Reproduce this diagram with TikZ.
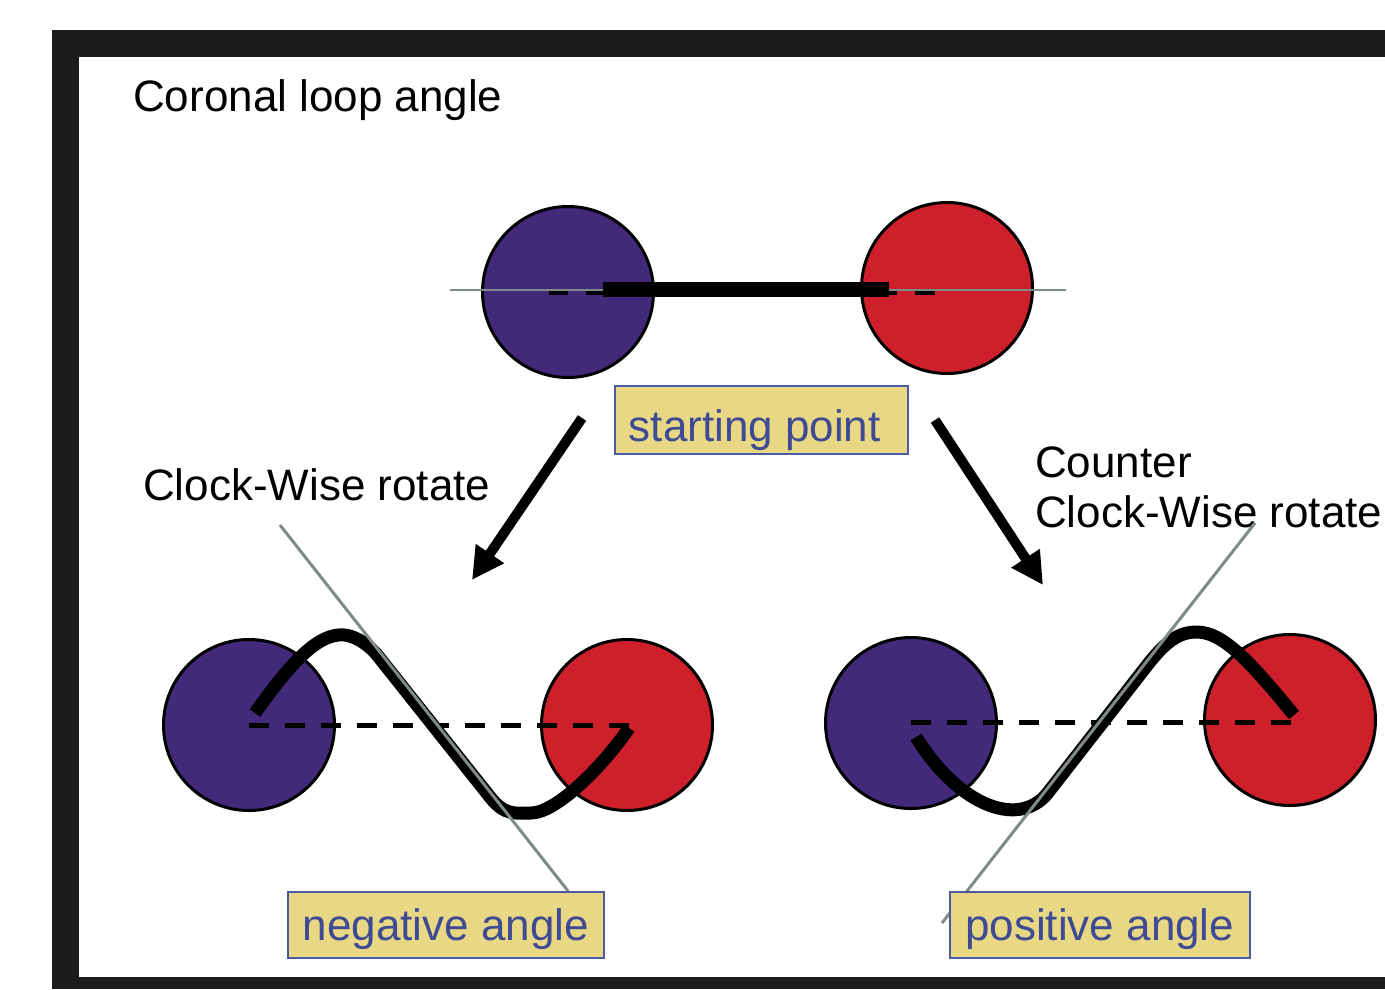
\documentclass[tikz,border=0pt]{standalone}
\usepackage{fontspec}
\setmainfont{Liberation Sans}
\usetikzlibrary{arrows.meta}
\definecolor{framebk}{HTML}{1C1C1C}
\definecolor{polblue}{HTML}{43297A}
\definecolor{polred}{HTML}{CE202B}
\definecolor{boxfill}{HTML}{E8D784}
\definecolor{boxedge}{HTML}{4C5AA3}
\definecolor{boxtext}{HTML}{3E4A91}
\definecolor{tangentgray}{HTML}{7F8A8A}
\begin{document}
\begin{tikzpicture}[x=1pt, y=-1pt, font=\fontsize{44}{50}\selectfont,
    >={Triangle[length=32pt,width=32pt]},
    footpt/.style={circle, draw=black, line width=3pt, minimum size=171pt, inner sep=0pt},
    negpol/.style={footpt, fill=polblue},
    pospol/.style={footpt, fill=polred},
    labelbox/.style={draw=boxedge, line width=1.5pt, fill=boxfill, text=boxtext,
      inner xsep=0pt, inner ysep=0pt, anchor=north west},
    plaintext/.style={anchor=base west, inner sep=0pt},
    tangent/.style={draw=tangentgray, line width=3pt},
    loopline/.style={line width=13pt},
    baseline/.style={dash pattern=on 20pt off 16pt, line width=5pt}]
  \useasboundingbox (0,0) rectangle (1385,989);
  % frame
  \fill[framebk] (52,30) rectangle (1385,989);
  \fill[white] (79,57) rectangle (1385,977);
  \node[plaintext] (title) at (133,111) {Coronal loop angle};
  % starting point
  \node[negpol] (bluetop) at (568,292) {};
  \node[pospol] (redtop) at (947,288) {};
  \draw[tangentgray, line width=2pt] (450,290) -- (1066,290);
  \draw[line width=4pt, dash pattern=on 19pt off 18pt] (549,293) -- (603,293);
  \draw[line width=4pt, dash pattern=on 8pt off 18pt on 20pt off 18pt] (889,293) -- (935,293);
  \draw[line width=15pt] (603,289) -- (889,289);
  \node[labelbox, minimum width=293pt, text height=56pt, text depth=12pt] (startbox) at (614,385) {starting point\rule{13pt}{0pt}};
  % rotation arrows
  \coordinate (cwtail) at (582,418);
  \coordinate (cwtip) at (472,580);
  \coordinate (ccwtail) at (935,420);
  \coordinate (ccwtip) at (1043,585);
  \draw[->, line width=10pt] (cwtail) -- (cwtip);
  \draw[->, line width=10pt] (ccwtail) -- (ccwtip);
  \node[plaintext] (cwlabel) at (143,500) {Clock-Wise rotate};
  \node[plaintext] (ccwlabel) at (1035,477) {Counter};
  \node[plaintext] (ccwlabelb) at (1035,527) {Clock-Wise rotate};
  % clock-wise case
  \node[negpol] (blueleft) at (249,725) {};
  \node[pospol] (redleft) at (627,725) {};
  \draw[baseline] (blueleft.center) -- ([xshift=5pt]redleft.center);
  \draw[loopline] (255,713) .. controls (290,664) and (318,632) .. (345,635)
    .. controls (358,637) and (370,646) .. (378,656) -- (490,797)
    .. controls (505,816) and (515,813) .. (531,813)
    .. controls (555,813) and (600,770) .. (629,728);
  \draw[tangent] (280,525) -- (568,891);
  \node[labelbox, minimum width=316pt, text height=49pt, text depth=17pt] (negbox) at (287,891) {negative angle};
  % counter clock-wise case
  \node[negpol] (blueright) at (911,723) {};
  \node[pospol] (redright) at (1290,720) {};
  \draw[baseline] ([yshift=1pt]blueright.center) -- ([xshift=8pt,yshift=-2pt]redright.center);
  \draw[loopline] (916,737) .. controls (960,808) and (1022,830) .. (1050,790)
    -- (1145,668) .. controls (1165,642) and (1178,632) .. (1197,632)
    .. controls (1225,632) and (1255,668) .. (1294,715);
  \draw[tangent] (1255,523) -- (942,923);
  \node[labelbox, minimum width=300pt, text height=49pt, text depth=17pt] (posbox) at (949,891) {positive angle};
\end{tikzpicture}
\end{document}
